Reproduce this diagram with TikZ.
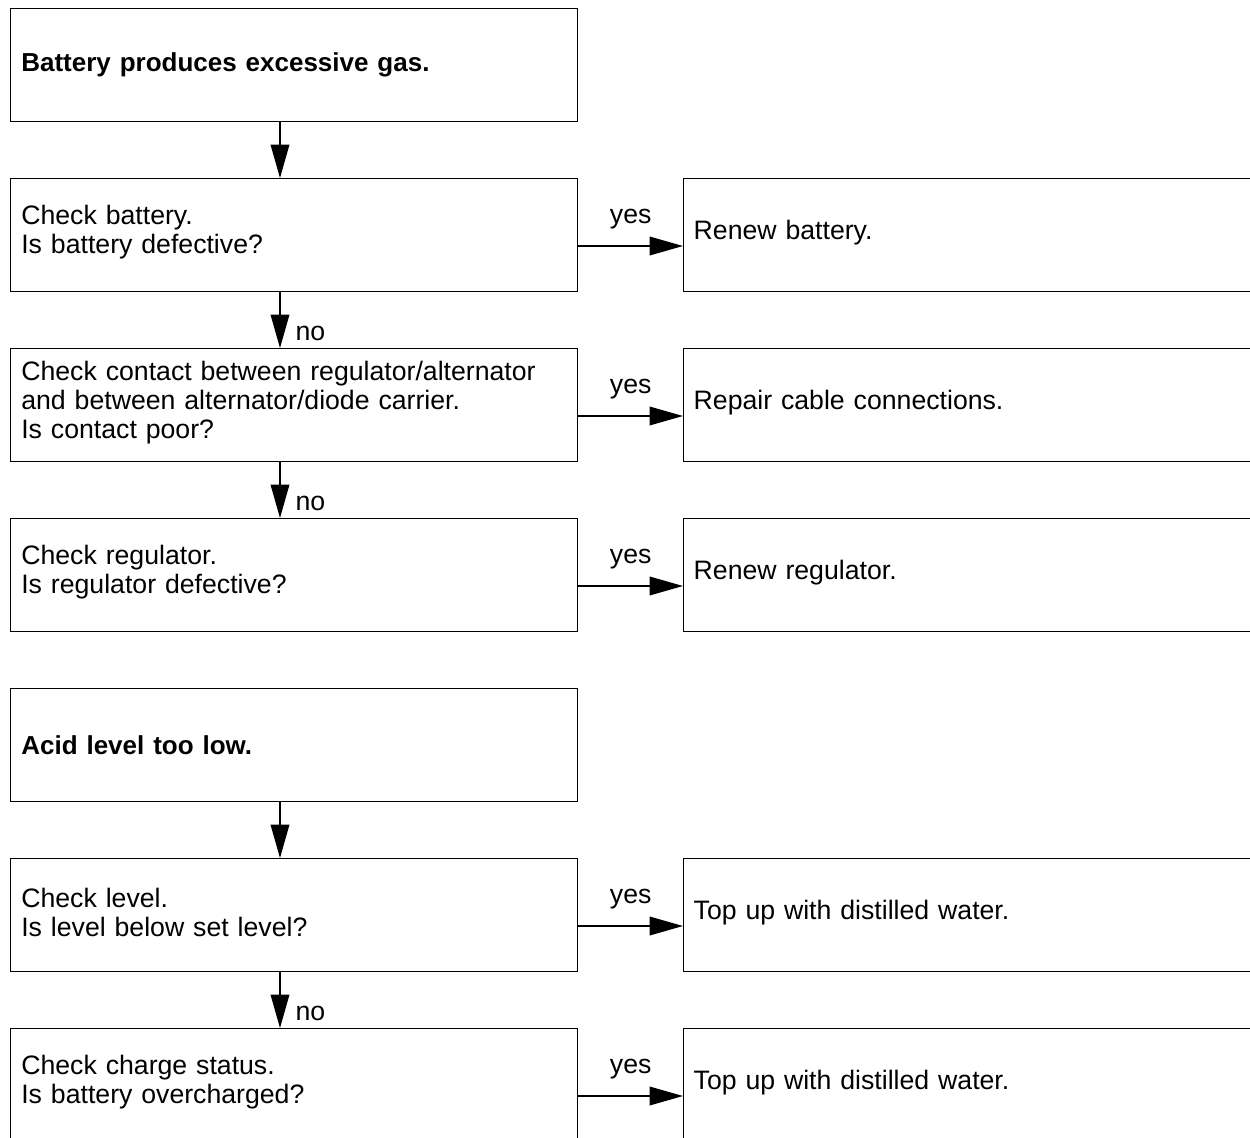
\documentclass[tikz,border=0pt]{standalone}
\usepackage{fontspec}
\setmainfont{Liberation Sans}
\usetikzlibrary{arrows.meta,calc}
\tikzset{
  base/.style={draw, line width=1pt, anchor=north west, align=left,
    font=\fontsize{20}{21.75}\selectfont, minimum height=84.75pt},
  raise/.style={execute at end node={\vspace{4pt}}},
  lbox/.style={base, minimum width=425.25pt, text width=409.25pt, inner xsep=8pt},
  rbox/.style={base, raise, minimum width=525pt, text width=510pt, inner xsep=7.5pt},
  arr/.style={line width=1pt, -{Triangle[length=25pt,width=14pt]}},
  lab/.style={inner sep=0pt, font=\fontsize{20}{22}\selectfont},
}
\begin{document}
\begin{tikzpicture}[x=0.75pt,y=-0.75pt]
\useasboundingbox (0,0) rectangle (1250,1138);
\clip (0,0) rectangle (1250,1138);
\coordinate (ax) at (280,0);
% left column
\node[lbox] (b1) at (10,8) {\fontsize{19.5}{22}\selectfont\bfseries Battery produces excessive gas.};
\node[lbox, raise] (b2) at (10,178) {Check battery.\\Is battery defective?};
\node[lbox, raise] (b3) at (10,348) {Check contact between regulator/alternator\\and between alternator/diode carrier.\\Is contact poor?};
\node[lbox, raise] (b4) at (10,518) {Check regulator.\\Is regulator defective?};
\node[lbox] (b5) at (10,688) {\fontsize{19.5}{22}\selectfont\bfseries Acid level too low.};
\node[lbox, raise] (b6) at (10,858) {Check level.\\Is level below set level?};
\node[lbox, raise] (b7) at (10,1028) {Check charge status.\\Is battery overcharged?};
% right column
\node[rbox] (r2) at (683,178) {Renew battery.};
\node[rbox] (r3) at (683,348) {Repair cable connections.};
\node[rbox] (r4) at (683,518) {Renew regulator.};
\node[rbox] (r6) at (683,858) {Top up with distilled water.};
\node[rbox] (r7) at (683,1028) {Top up with distilled water.};
% vertical arrows
\draw[arr] (b1.south -| ax) -- (b2.north -| ax);
\draw[arr] (b2.south -| ax) -- node[lab, midway, anchor=west, xshift=11.25pt, yshift=-10pt] {no} (b3.north -| ax);
\draw[arr] (b3.south -| ax) -- node[lab, midway, anchor=west, xshift=11.25pt, yshift=-10pt] {no} (b4.north -| ax);
\draw[arr] (b5.south -| ax) -- (b6.north -| ax);
\draw[arr] (b6.south -| ax) -- node[lab, midway, anchor=west, xshift=11.25pt, yshift=-10pt] {no} (b7.north -| ax);
% horizontal arrows
\foreach \a/\b in {b2/r2, b3/r3, b4/r4, b6/r6, b7/r7}{
  \draw[arr] ($(\a.north east)+(0,68)$) -- node[lab, midway, yshift=20pt] {yes} ($(\b.north west)+(0,68)$);
}
\end{tikzpicture}
\end{document}
